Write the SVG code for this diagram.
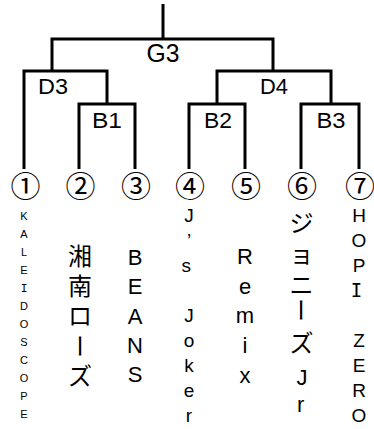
<svg xmlns="http://www.w3.org/2000/svg" width="374" height="429" viewBox="0 0 374 429">
<style>
.ln{fill:none;stroke:#000;stroke-width:3;stroke-linejoin:miter;stroke-linecap:butt}
.lbl{font-family:"Liberation Sans",Arial,sans-serif;font-size:22px;text-anchor:middle;fill:#000}
.num{font-family:"Noto Sans CJK JP",sans-serif;font-size:30px;text-anchor:middle;fill:#000}
.v{font-family:"Liberation Sans",Arial,sans-serif;text-anchor:middle;fill:#000}
.jp{font-family:"Noto Sans CJK JP",sans-serif;font-size:24px;fill:#000}
.lat{font-family:"Liberation Sans",Arial,sans-serif;font-size:22px}
.m{font-family:"DejaVu Sans Mono",monospace}
</style>
<rect width="374" height="429" fill="#fff"/>
<g id="connectors">
<path class="ln" d="M163 4V39"/>
<path class="ln" d="M52 71V39H273V71"/>
<path class="ln" d="M24 169V71H107V104"/>
<path class="ln" d="M79 169V104H135V169"/>
<path class="ln" d="M217 104V71H331V104"/>
<path class="ln" d="M189 169V104H245V169"/>
<path class="ln" d="M301 169V104H359V169"/>
</g>
<g id="G3"><text class="lbl" x="163" y="62" style="font-size:25px" textLength="33" lengthAdjust="spacingAndGlyphs">G3</text></g>
<g id="D3"><text class="lbl" x="53" y="94" textLength="30" lengthAdjust="spacingAndGlyphs">D3</text></g>
<g id="D4"><text class="lbl" x="274" y="94" textLength="28" lengthAdjust="spacingAndGlyphs">D4</text></g>
<g id="B1"><text class="lbl" x="107" y="128" textLength="30" lengthAdjust="spacingAndGlyphs">B1</text></g>
<g id="B2"><text class="lbl" x="218" y="128" textLength="28" lengthAdjust="spacingAndGlyphs">B2</text></g>
<g id="B3"><text class="lbl" x="331" y="128" textLength="29" lengthAdjust="spacingAndGlyphs">B3</text></g>
<g id="team1">
<text class="num" x="25.5" y="197">①</text>
<text class="v" style="font-size:11px"><tspan x="24" y="219.5">K</tspan><tspan x="24" y="237.5">A</tspan><tspan x="24" y="255.5">L</tspan><tspan x="24" y="273.5">E</tspan><tspan x="24" y="291.5" class="m">I</tspan><tspan x="24" y="309.5">D</tspan><tspan x="24" y="327.5">O</tspan><tspan x="24" y="345.5">S</tspan><tspan x="24" y="363.5">C</tspan><tspan x="24" y="381.5">O</tspan><tspan x="24" y="399.5">P</tspan><tspan x="24" y="417.5">E</tspan></text>
</g>
<g id="team2">
<text class="num" x="80.5" y="197">②</text>
<text class="jp"><tspan x="68" y="265">湘</tspan><tspan x="68" y="295">南</tspan><tspan x="68" y="325">ロ</tspan><tspan x="70.9" y="334" rotate="90">ー</tspan><tspan x="68" y="385">ズ</tspan></text>
</g>
<g id="team3">
<text class="num" x="136" y="197">③</text>
<text class="v" style="font-size:22px"><tspan x="135" y="265">B</tspan><tspan x="135" y="294">E</tspan><tspan x="135" y="323.5">A</tspan><tspan x="135" y="353">N</tspan><tspan x="135" y="382">S</tspan></text>
</g>
<g id="team4">
<text class="num" x="190" y="197">④</text>
<text class="v" style="font-size:19px"><tspan x="189" y="222">J</tspan><tspan x="189" y="247">’</tspan><tspan x="189" y="272">s</tspan> <tspan x="189" y="322">J</tspan><tspan x="189" y="347">o</tspan><tspan x="189" y="372">k</tspan><tspan x="189" y="397">e</tspan><tspan x="189" y="422">r</tspan></text>
</g>
<g id="team5">
<text class="num" x="246" y="197">⑤</text>
<text class="v" style="font-size:22px"><tspan x="245" y="264">R</tspan><tspan x="245" y="293.5">e</tspan><tspan x="245" y="323">m</tspan><tspan x="245" y="353">i</tspan><tspan x="245" y="383">x</tspan></text>
</g>
<g id="team6">
<text class="num" x="302" y="197">⑥</text>
<text class="jp"><tspan x="289.5" y="232">ジ</tspan><tspan x="289.5" y="262.5">ョ</tspan><tspan x="289.5" y="294">ニ</tspan><tspan x="292.4" y="298" rotate="90">ー</tspan><tspan x="289.5" y="352">ズ</tspan><tspan class="lat" x="296.5" y="385">J</tspan><tspan class="lat" x="297" y="412">r</tspan></text>
</g>
<g id="team7">
<text class="num" x="360" y="197">⑦</text>
<text class="v" style="font-size:19px"><tspan x="359" y="222">H</tspan><tspan x="359" y="247">O</tspan><tspan x="359" y="272">P</tspan><tspan x="359" y="297" class="m">I</tspan> <tspan x="359" y="347">Z</tspan><tspan x="359" y="372">E</tspan><tspan x="359" y="397">R</tspan><tspan x="359" y="422">O</tspan></text>
</g>
</svg>
